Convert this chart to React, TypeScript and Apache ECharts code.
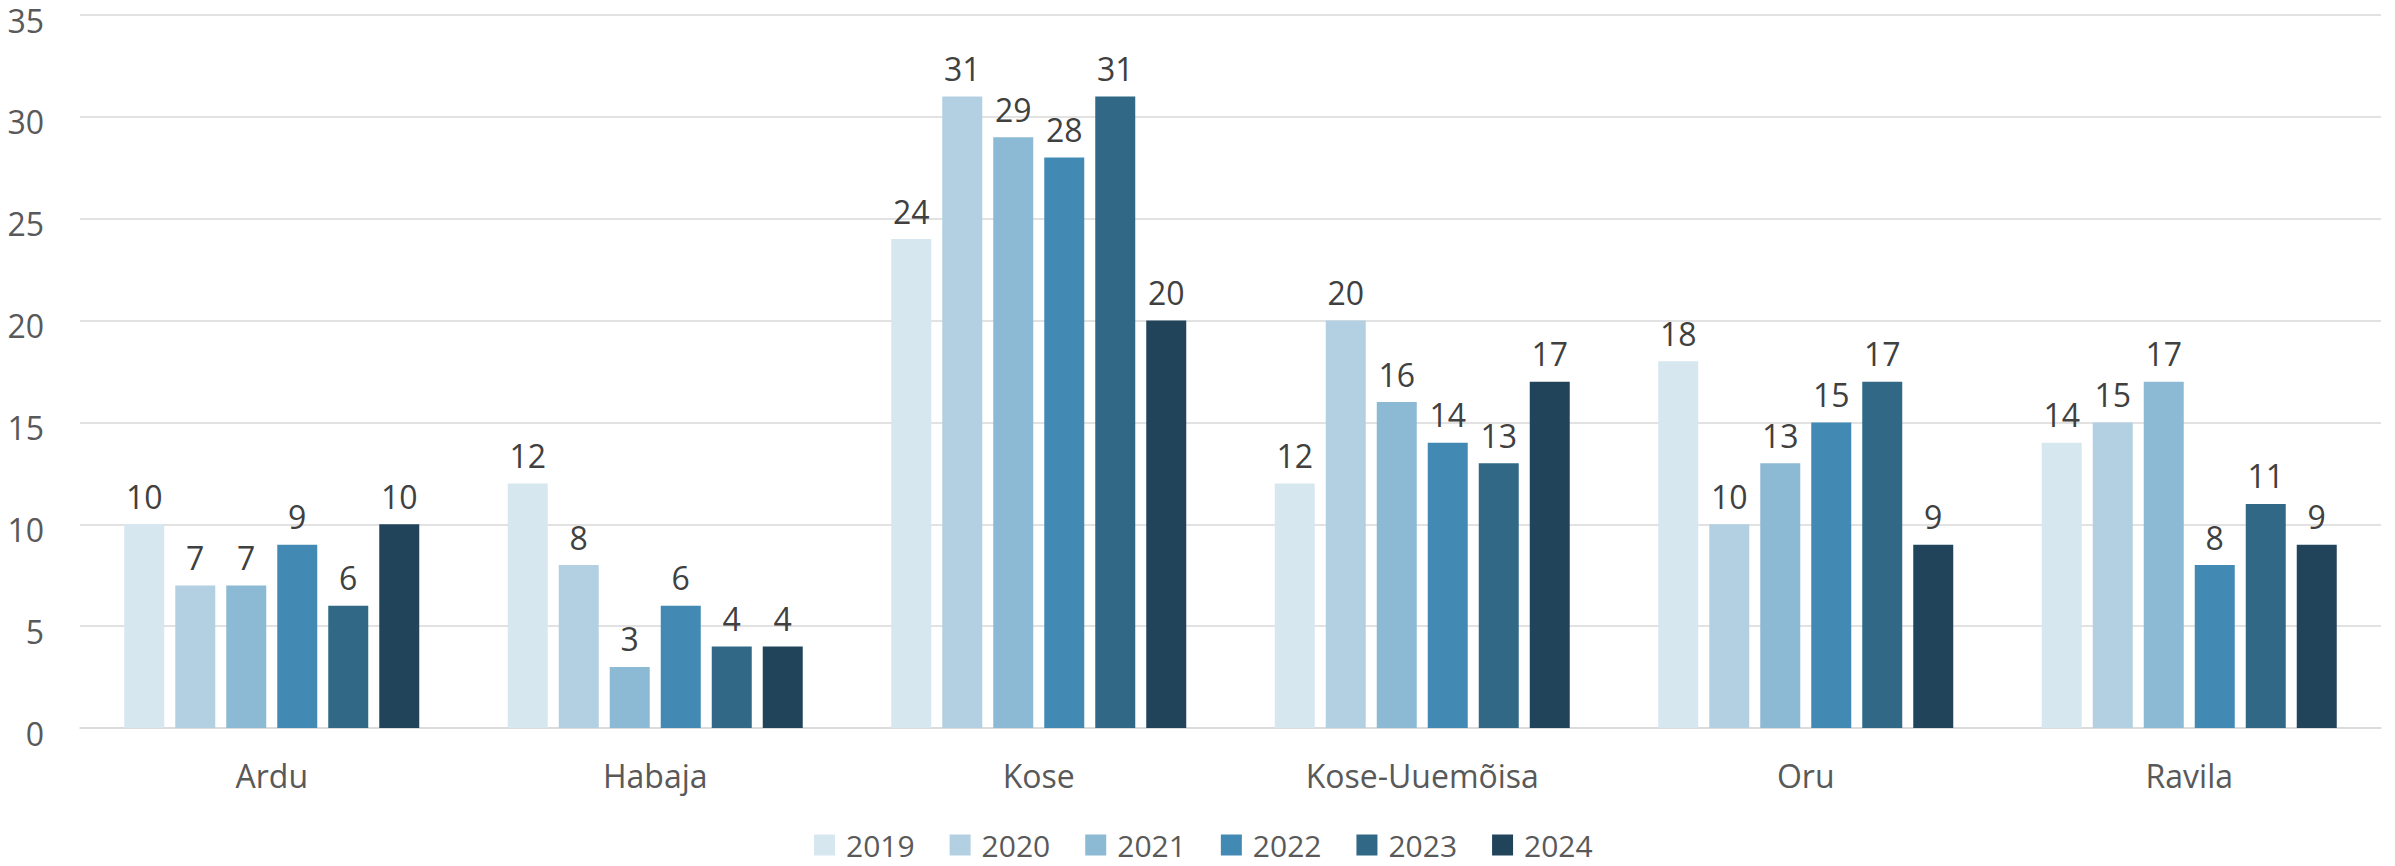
import React, { useEffect, useRef } from "react";
import * as echarts from "echarts";

const categories = ["Ardu", "Habaja", "Kose", "Kose-Uuemõisa", "Oru", "Ravila"];
const years = ["2019", "2020", "2021", "2022", "2023", "2024"];
const v2019 = [10, 12, 24, 12, 18, 14];
const v2020 = [7, 8, 31, 20, 10, 15];
const v2021 = [7, 3, 29, 16, 13, 17];
const v2022 = [9, 6, 28, 14, 15, 8];
const v2023 = [6, 4, 31, 13, 17, 11];
const v2024 = [10, 4, 20, 17, 9, 9];
const seriesValues = [v2019, v2020, v2021, v2022, v2023, v2024];
const colors = ["#d7e7f0", "#b2d0e2", "#8cb9d4", "#428ab4", "#306885", "#21445a"];
const yTicks = { min: 0, max: 35, interval: 5 };

const FONT = "'Open Sans', 'DejaVu Sans', sans-serif";

export default function App() {
  const ref = useRef<HTMLDivElement>(null);
  useEffect(() => {
    document.body.style.margin = "0";
    if (!ref.current) return;
    const chart = echarts.init(ref.current, undefined, { renderer: "svg" });
    chart.setOption({
      animation: false,
      backgroundColor: "#ffffff",
      textStyle: { fontFamily: FONT },
      grid: { left: 80, right: 14, top: 15, bottom: 138, containLabel: false },
      legend: {
        data: years,
        left: 809,
        top: 825,
        itemWidth: 21,
        itemHeight: 21,
        itemGap: 35,
        icon: "rect",
        textStyle: { fontSize: 30, color: "#595959", fontFamily: FONT, padding: [0, 0, 0, 6] },
      },
      xAxis: {
        type: "category",
        data: categories,
        axisLine: { show: true, lineStyle: { color: "#d9d9d9", width: 1.5 } },
        axisTick: { show: false },
        axisLabel: { fontSize: 32, color: "#595959", margin: 31, fontFamily: FONT },
      },
      yAxis: {
        type: "value",
        min: yTicks.min,
        max: yTicks.max,
        interval: yTicks.interval,
        axisLine: { show: false },
        axisTick: { show: false },
        splitLine: { lineStyle: { color: "#d9d9d9", width: 1.5 } },
        axisLabel: {
          fontSize: 32,
          color: "#595959",
          margin: 36,
          fontFamily: FONT,
          verticalAlign: "top",
          lineHeight: 10,
        },
      },
      series: years.map((y, i) => ({
        name: y,
        type: "bar",
        data: seriesValues[i],
        barWidth: 40,
        barGap: "27.5%",
        itemStyle: { color: colors[i] },
        label: {
          show: true,
          position: "top",
          distance: 12,
          fontSize: 32,
          color: "#404040",
          fontFamily: FONT,
        },
      })),
    });
    return () => chart.dispose();
  }, []);
  return <div ref={ref} style={{ width: 2395, height: 866 }} />;
}
